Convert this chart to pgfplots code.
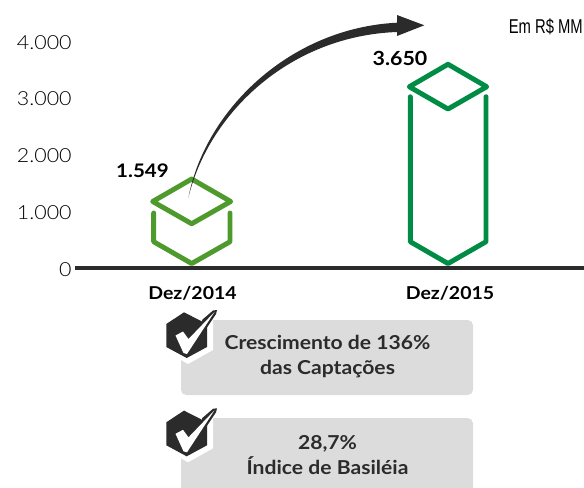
\documentclass[border=0pt]{standalone}
\usepackage{pgfplots}
\pgfplotsset{compat=1.18}
\usepackage{fontspec}
\setmainfont[FakeStretch=1.1]{Lato}
\newfontfamily\lightf[FakeStretch=1.1]{Lato Light}
\newfontfamily\narrowf{Liberation Sans}
\definecolor{gA}{HTML}{4F9A2D}
\definecolor{gB}{HTML}{008C45}
\definecolor{dk}{HTML}{2B2B2B}
\definecolor{bx}{HTML}{DCDCDC}
\newcommand{\checkicon}[1]{%
\begin{scope}[yshift=#1*(-0.75pt)]
\fill[white] (181,318) -- (213,318) -- (213,350) -- (188,364) -- (181,360) -- cycle;
\fill[dk] (184,312.3) -- (207,324) -- (207,347) -- (186.7,358) -- (166.3,347) -- (166.3,324) -- cycle;
\fill[dk] (202,320) -- (213,310.5) -- (217,310) -- (216,314) -- (204,332) -- cycle;
\fill[white] (175.5,335.5) -- (183,331.5) -- (188.5,339) -- (214.5,312) -- (187,354) -- (183.5,353) -- cycle;
\end{scope}}
\begin{document}
\begin{tikzpicture}
\useasboundingbox (0,0) rectangle (438pt,365.25pt);
\begin{scope}[x=.75pt,y=-.75pt,yshift=365.25pt]
\fill[bx,rounded corners=4pt] (181,320) rectangle (473,395);
\begin{scope}
\clip (0,0) rectangle (584,487);
\fill[bx,rounded corners=4pt] (181,418) rectangle (473,500);
\end{scope}
\checkicon{0}
\checkicon{98.3}
\node[text=dk,font=\fontsize{14.4pt}{19.3pt}\selectfont\bfseries,align=center] at (327.5,356.5) {Crescimento de 136\%\\das Captações};
\node[text=dk,font=\fontsize{14.4pt}{19.3pt}\selectfont\bfseries,align=center] at (327.5,455) {28,7\%\\Índice de Basiléia};
\node[font=\fontsize{15pt}{17pt}\selectfont\narrowf,text=black,anchor=east,xscale=.74,inner sep=0pt] at (583,27) {Em R\$ MM};
\end{scope}
\begin{axis}[
  at={(56.25pt,0pt)},anchor=south west,scale only axis,
  width=381.75pt,height=365.25pt,
  xmin=75,xmax=584,ymin=-3859,ymax=4722.6,
  axis x line=middle,axis y line=left,
  y axis line style={draw=none},
  x axis line style={line width=2.6pt,color=dk,-},
  clip=false,
  major tick length=0pt,
  xtick={192.5,450},
  xticklabels={Dez/2014,Dez/2015},
  x tick label style={font=\fontsize{13.3pt}{16pt}\selectfont\bfseries,text=black,yshift=-10pt},
  ytick={0,1000,2000,3000,4000},
  yticklabels={0,{1.000},{2.000},{3.000},{4.000}},
  y tick label style={font=\fontsize{14.6pt}{16pt}\selectfont\lightf,text=black,xshift=1pt,yshift=-1pt},
]
% cube 2014
\addplot[gA,line width=3.7pt,line cap=round,line join=round] coordinates {(191.7,1568) (230.7,1172) (191.7,780) (152.7,1172) (191.7,1568)};
\addplot[gA,line width=3.7pt,line cap=round,line join=round] coordinates {(153.7,969) (153.7,463) (191.7,79) (230,463) (230,969)};
% column 2015
\addplot[gB,line width=3.7pt,line cap=round,line join=round] coordinates {(448,3590) (486.7,3194) (448,2802) (409.3,3194) (448,3590)};
\addplot[gB,line width=3.7pt,line cap=round,line join=round] coordinates {(410.3,3018) (410.3,463) (448,79) (486,463) (486,3018)};
\node[font=\fontsize{14pt}{16pt}\selectfont\bfseries,text=black] at (axis cs:142.5,1720) {1.549};
\node[font=\fontsize{14.6pt}{16pt}\selectfont\bfseries,text=black] at (axis cs:400,3690) {3.650};
\end{axis}
\begin{scope}[x=.75pt,y=-.75pt,yshift=365.25pt]
\fill[dk] (188.3,198) .. controls (205,110) and (290,28) .. (397,22.7) -- (397,15) -- (424.3,25.3) -- (397,36) -- (397,32) .. controls (288,36) and (208,115) .. cycle;
\end{scope}
\end{tikzpicture}
\end{document}
